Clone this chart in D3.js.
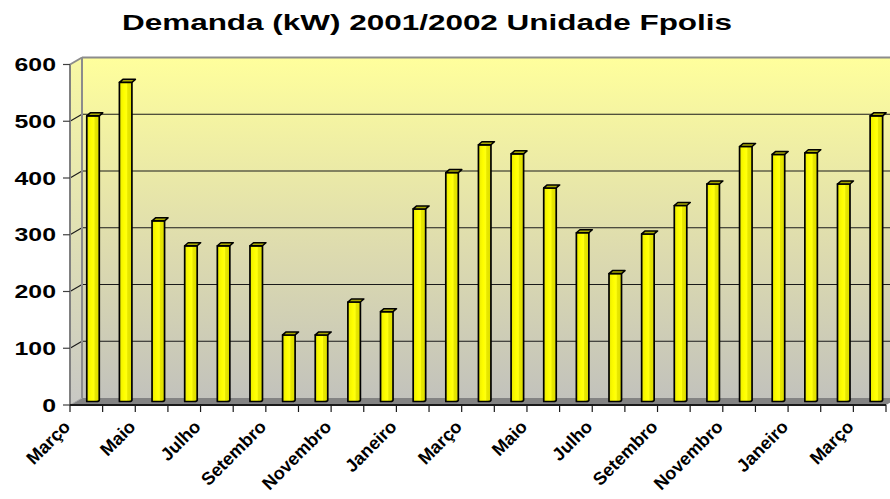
<!DOCTYPE html>
<html>
<head>
<meta charset="utf-8">
<script src="https://cdn.jsdelivr.net/npm/d3@7"></script>
<style>
  html, body { margin: 0; padding: 0; background: #ffffff; }
  svg { display: block; }
  text { font-family: "Liberation Sans", Arial, sans-serif; font-weight: bold; fill: #000; }
</style>
</head>
<body>
<svg id="chart" width="890" height="499"></svg>
<script>
// ---- data ----
const title = "Demanda (kW) 2001/2002 Unidade Fpolis";
const months = ["Março","Abril","Maio","Junho","Julho","Agosto","Setembro","Outubro","Novembro","Dezembro",
                "Janeiro","Fevereiro","Março","Abril","Maio","Junho","Julho","Agosto","Setembro","Outubro",
                "Novembro","Dezembro","Janeiro","Fevereiro","Março"];
const demand = [506, 565, 321, 277, 277, 277, 120, 120, 178, 161,
                342, 406, 455, 439, 379, 300, 228, 298, 348, 386,
                452, 438, 441, 386, 506];
const yTicks = [0, 100, 200, 300, 400, 500, 600];

// ---- layout ----
const svg = d3.select("#chart");
const plotLeft = 70, plotRight = 886, plotBottom = 405, plotTop = 64.5;
const depthX = 12, depthY = -7;          // back wall offset
const textStretch = 1.38;

const x = d3.scaleBand().domain(d3.range(months.length)).range([plotLeft, plotRight]).paddingInner(0).paddingOuter(0);
const y = d3.scaleLinear().domain([0, 600]).range([plotBottom, plotTop]);

const defs = svg.append("defs");
const wallGrad = defs.append("linearGradient").attr("id", "wall").attr("x1", 0).attr("y1", 0).attr("x2", 0).attr("y2", 1);
wallGrad.append("stop").attr("offset", "0%").attr("stop-color", "#ffff9c");
wallGrad.append("stop").attr("offset", "55%").attr("stop-color", "#dedcae");
wallGrad.append("stop").attr("offset", "100%").attr("stop-color", "#c2c2bc");

const sideGrad = defs.append("linearGradient").attr("id", "side").attr("x1", 0).attr("y1", 0).attr("x2", 0).attr("y2", 1);
sideGrad.append("stop").attr("offset", "0%").attr("stop-color", "#f8f8a4");
sideGrad.append("stop").attr("offset", "100%").attr("stop-color", "#c8c8c4");

const barGrad = defs.append("linearGradient").attr("id", "bar").attr("x1", 0).attr("y1", 0).attr("x2", 1).attr("y2", 0);
[["0%", "#e4e400"], ["20%", "#f6f600"], ["40%", "#ffff00"], ["58%", "#ffff10"], ["66%", "#e8e800"], ["100%", "#dcdc00"]]
  .forEach(([o, c]) => barGrad.append("stop").attr("offset", o).attr("stop-color", c));

// back wall
const bx0 = plotLeft + depthX, bx1 = plotRight + depthX;
svg.append("rect").attr("x", bx0).attr("y", y(600) + depthY)
  .attr("width", bx1 - bx0).attr("height", y(0) - y(600))
  .attr("fill", "url(#wall)");
// left side wall
svg.append("polygon")
  .attr("points", [[plotLeft, y(0)], [plotLeft, y(600)], [bx0, y(600) + depthY], [bx0, y(0) + depthY]].join(" "))
  .attr("fill", "url(#side)");
// floor
svg.append("polygon")
  .attr("points", [[plotLeft, y(0)], [bx0, y(0) + depthY], [bx1, y(0) + depthY], [plotRight, y(0)]].join(" "))
  .attr("fill", "#838383");

// gridlines
yTicks.filter(d => d > 0 && d < 600).forEach(d => {
  svg.append("line").attr("x1", bx0).attr("x2", bx1).attr("y1", y(d) + depthY).attr("y2", y(d) + depthY)
    .attr("stroke", "#1a1a1a").attr("stroke-width", 1.1);
  svg.append("line").attr("x1", plotLeft).attr("x2", bx0).attr("y1", y(d)).attr("y2", y(d) + depthY)
    .attr("stroke", "#1a1a1a").attr("stroke-width", 1.1);
});
// wall edges
svg.append("line").attr("x1", bx0).attr("x2", bx1).attr("y1", y(600) + depthY).attr("y2", y(600) + depthY)
  .attr("stroke", "#8c8c8c").attr("stroke-width", 2);
svg.append("line").attr("x1", plotLeft).attr("x2", bx0).attr("y1", y(600)).attr("y2", y(600) + depthY)
  .attr("stroke", "#8c8c8c").attr("stroke-width", 2);
svg.append("line").attr("x1", bx0).attr("x2", bx0).attr("y1", y(600) + depthY).attr("y2", y(0) + depthY)
  .attr("stroke", "#8c8c8c").attr("stroke-width", 2);
svg.append("line").attr("x1", plotLeft).attr("x2", bx0).attr("y1", y(0)).attr("y2", y(0) + depthY)
  .attr("stroke", "#a8a8a8").attr("stroke-width", 1);

// bars
const barW = 12.5, barDY = -2, topDX = 3.5, topDY = -3;
const bars = svg.append("g");
demand.forEach((v, i) => {
  const cx = x(i) + x.bandwidth() / 2 + 6.7;
  const x0 = cx - barW / 2, x1 = cx + barW / 2;
  const yt = y(v) + barDY, yb = y(0) - 3.5;
  bars.append("path")
    .attr("d", `M${x0},${yt} L${x1},${yt} L${x1},${yb - 1.5} Q${x1},${yb} ${x1 - 3},${yb} L${x0},${yb} Z`)
    .attr("fill", "url(#bar)").attr("stroke", "#000").attr("stroke-width", 1.7).attr("stroke-linejoin", "round");
  bars.append("path")
    .attr("d", `M${x0},${yt} L${x1},${yt} L${x1 + topDX},${yt + topDY} L${x0 + topDX},${yt + topDY} Z`)
    .attr("fill", "#a9a900").attr("stroke", "#000").attr("stroke-width", 1.5).attr("stroke-linejoin", "round");
});

// y axis line + ticks
svg.append("line").attr("x1", plotLeft).attr("x2", plotLeft).attr("y1", y(600)).attr("y2", y(0))
  .attr("stroke", "#808080").attr("stroke-width", 2);
yTicks.forEach(d => {
  svg.append("line").attr("x1", plotLeft - 7).attr("x2", plotLeft).attr("y1", y(d)).attr("y2", y(d))
    .attr("stroke", "#404040").attr("stroke-width", 1.2);
  svg.append("text")
    .attr("transform", `translate(56,${y(d) + 6.5}) scale(${textStretch},1)`)
    .attr("text-anchor", "end").attr("font-size", 18).text(d);
});

// x axis line + ticks
svg.append("line").attr("x1", plotLeft).attr("x2", plotRight).attr("y1", y(0)).attr("y2", y(0))
  .attr("stroke", "#1a1a1a").attr("stroke-width", 2);
d3.range(months.length + 1).forEach(i => {
  const xx = i < months.length ? x(i) : plotRight;
  svg.append("line").attr("x1", xx).attr("x2", xx).attr("y1", y(0)).attr("y2", y(0) + 7)
    .attr("stroke", "#1a1a1a").attr("stroke-width", 1.2);
});
months.forEach((m, i) => {
  if (i % 2 !== 0) return;
  const ax = x(i) + x.bandwidth() / 2 - 15, ay = 428;
  svg.append("text")
    .attr("transform", `translate(${ax},${ay}) rotate(-45)`)
    .attr("text-anchor", "end").attr("font-size", 18).text(m);
});

// title
svg.append("text")
  .attr("transform", `translate(427,30) scale(${textStretch},1)`)
  .attr("text-anchor", "middle").attr("font-size", 22.8).text(title);
</script>
</body>
</html>
